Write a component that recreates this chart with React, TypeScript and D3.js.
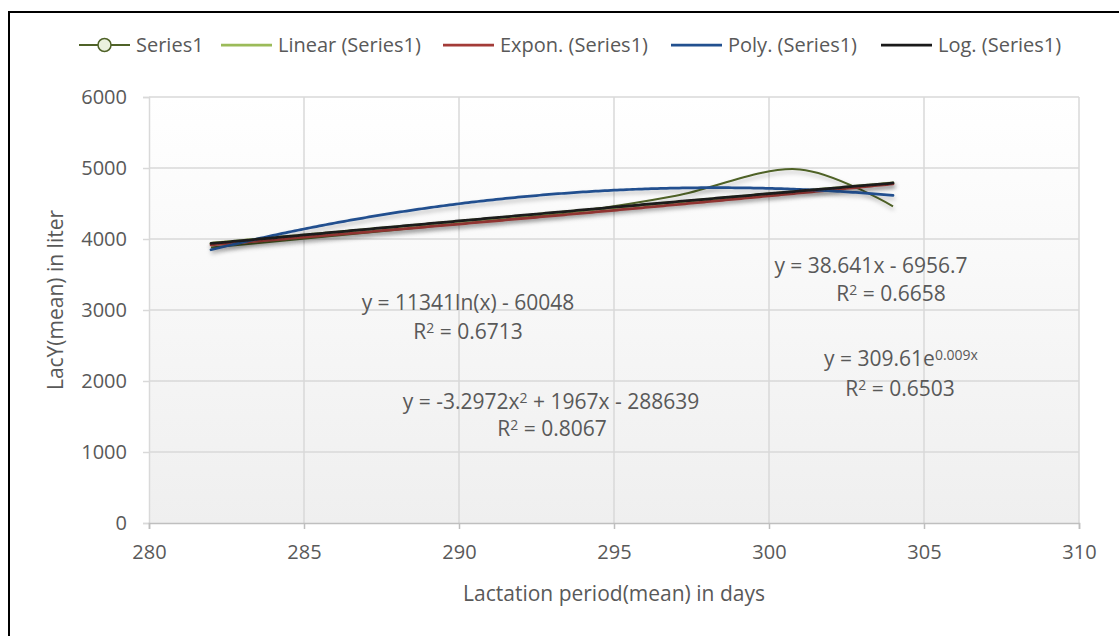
import React, { useEffect, useRef } from 'react';
import * as d3 from 'd3';

// Series1 (mean lactation period vs mean LacY)
const days = [282, 288, 294, 297, 301, 304];
const lacY = [3880, 4130, 4400, 4610, 4980, 4460];

// trendline coefficients as printed on the chart
const linearCoef = [38.641, -6956.7];
const exponCoef = [309.61, 0.009];
const polyCoef = [-3.2972, 1967, -288639];
const logCoef = [11341, -60048];

const xTicks = [280, 285, 290, 295, 300, 305, 310];
const yTicks = [0, 1000, 2000, 3000, 4000, 5000, 6000];

const legendNames = ['Series1', 'Linear (Series1)', 'Expon. (Series1)', 'Poly. (Series1)', 'Log. (Series1)'];

const FONT = "'Open Sans', 'Noto Sans', sans-serif";
const TXT = '#595959';

const App: React.FC = () => {
  const svgRef = useRef<SVGSVGElement | null>(null);

  useEffect(() => {
    const svg = d3.select(svgRef.current);
    svg.selectAll('*').remove();
    const width = 1119;
    const height = 636;
    const margin = { top: 97, right: 40, bottom: 113, left: 149 };

    const x = d3.scaleLinear().domain([280, 310]).range([margin.left, width - margin.right]);
    const y = d3.scaleLinear().domain([0, 6000]).range([height - margin.bottom, margin.top]);

    const defs = svg.append('defs');
    const grad = defs.append('linearGradient').attr('id', 'bg').attr('x1', 0).attr('y1', 0).attr('x2', 0).attr('y2', 1);
    grad.append('stop').attr('offset', '0%').attr('stop-color', '#ffffff');
    grad.append('stop').attr('offset', '100%').attr('stop-color', '#efefef');
    const f = defs.append('filter').attr('id', 'shadow').attr('x', '-10%').attr('y', '-50%').attr('width', '120%').attr('height', '200%');
    f.append('feDropShadow').attr('dx', 1).attr('dy', 3).attr('stdDeviation', 2).attr('flood-color', '#000').attr('flood-opacity', 0.25);

    // chart border
    svg.append('rect').attr('x', 9).attr('y', 12).attr('width', 1130).attr('height', 640)
      .attr('fill', '#fff').attr('stroke', '#000').attr('stroke-width', 2);

    svg.append('rect')
      .attr('x', x(280)).attr('y', y(6000))
      .attr('width', x(310) - x(280)).attr('height', y(0) - y(6000))
      .attr('fill', 'url(#bg)');

    // gridlines
    svg.append('g').selectAll('line').data(yTicks.slice(1)).enter().append('line')
      .attr('x1', x(280)).attr('x2', x(310)).attr('y1', d => y(d)).attr('y2', d => y(d))
      .attr('stroke', '#d9d9d9').attr('stroke-width', 1.5);
    svg.append('g').selectAll('line').data(xTicks.slice(1)).enter().append('line')
      .attr('y1', y(0)).attr('y2', y(6000)).attr('x1', d => x(d)).attr('x2', d => x(d))
      .attr('stroke', '#d9d9d9').attr('stroke-width', 1.5);

    const yAxis = svg.append('g').attr('transform', `translate(${x(280)},0)`)
      .call(d3.axisLeft(y).tickValues(yTicks).tickSize(6).tickPadding(16).tickFormat(d3.format('d')) as any);
    const xAxis = svg.append('g').attr('transform', `translate(0,${y(0)})`)
      .call(d3.axisBottom(x).tickValues(xTicks).tickSize(6).tickPadding(16).tickFormat(d3.format('d')) as any);
    [yAxis, xAxis].forEach(a => {
      a.select('.domain').attr('stroke', '#bfbfbf').attr('stroke-width', 1.5);
      a.selectAll('.tick line').attr('stroke', '#bfbfbf').attr('stroke-width', 1.5);
      a.selectAll('.tick text').attr('fill', TXT).attr('font-family', FONT).attr('font-size', 20);
    });
    yAxis.select('.domain').attr('stroke', '#d9d9d9');
    yAxis.selectAll('.tick line').attr('stroke', '#d9d9d9');

    svg.append('text').attr('x', (x(280) + x(310)) / 2).attr('y', 601)
      .attr('text-anchor', 'middle').attr('fill', TXT).attr('font-family', FONT).attr('font-size', 21)
      .text('Lactation period(mean) in days');
    svg.append('text').attr('transform', `translate(63,${(y(0) + y(6000)) / 2 - 10}) rotate(-90)`)
      .attr('text-anchor', 'middle').attr('fill', TXT).attr('font-family', FONT).attr('font-size', 21)
      .text('LacY(mean) in liter');

    // trendlines sampled over the data range
    const [x0, x1] = d3.extent(days) as [number, number];
    const xs = d3.range(x0, x1 + 0.001, 0.1);
    const trend = (fn: (v: number) => number) => xs.map(v => [v, fn(v)] as [number, number]);
    const lineGen = d3.line<[number, number]>().x(d => x(d[0])).y(d => y(d[1]));

    const trends: { pts: [number, number][]; color: string }[] = [
      { pts: trend(v => linearCoef[0] * v + linearCoef[1]), color: '#9bbb59' },
      { pts: trend(v => exponCoef[0] * Math.exp(exponCoef[1] * v)), color: '#a33b38' },
      { pts: trend(v => polyCoef[0] * v * v + polyCoef[1] * v + polyCoef[2]), color: '#22508f' },
      { pts: trend(v => logCoef[0] * Math.log(v) + logCoef[1]), color: '#1a1a1a' },
    ];

    const seriesPts = days.map((d, i) => [d, lacY[i]] as [number, number]);
    svg.append('path').datum(seriesPts)
      .attr('d', d3.line<[number, number]>().x(d => x(d[0])).y(d => y(d[1])).curve(d3.curveCatmullRom.alpha(0.5)))
      .attr('fill', 'none').attr('stroke', '#4f6228').attr('stroke-width', 2).attr('filter', 'url(#shadow)');

    trends.forEach(t => {
      svg.append('path').datum(t.pts).attr('d', lineGen)
        .attr('fill', 'none').attr('stroke', t.color).attr('stroke-width', 2.75)
        .attr('stroke-linecap', 'round').attr('filter', 'url(#shadow)');
    });

    // equation labels
    const eq = svg.append('g').attr('fill', TXT).attr('font-family', FONT).attr('font-size', 21).attr('text-anchor', 'middle');
    const label = (cx: number, cy: number, parts: [string, boolean][]) => {
      const t = eq.append('text').attr('x', cx).attr('y', cy);
      parts.forEach(([s, sup]) => {
        const ts = t.append('tspan').text(s);
        if (sup) ts.attr('font-size', 14).attr('baseline-shift', '40%');
      });
    };
    label(871, 273, [[`y = ${linearCoef[0]}x - ${Math.abs(linearCoef[1])}`, false]]);
    label(891, 301, [['R', false], ['2', true], [' = 0.6658', false]]);
    label(468, 310, [[`y = ${logCoef[0]}ln(x) - ${Math.abs(logCoef[1])}`, false]]);
    label(468, 339, [['R', false], ['2', true], [' = 0.6713', false]]);
    label(551, 409, [[`y = ${polyCoef[0]}x`, false], ['2', true], [` + ${polyCoef[1]}x - ${Math.abs(polyCoef[2])}`, false]]);
    label(552, 436, [['R', false], ['2', true], [' = 0.8067', false]]);
    label(901, 366, [[`y = ${exponCoef[0]}e`, false], [`${exponCoef[1]}x`, true]]);
    label(900, 396, [['R', false], ['2', true], [' = 0.6503', false]]);

    // legend
    const legendX = [79, 221, 443, 671, 881];
    const legendColors = ['#4f6228', '#9bbb59', '#a33b38', '#22508f', '#1a1a1a'];
    const lg = svg.append('g');
    legendNames.forEach((n, i) => {
      const g = lg.append('g').attr('transform', `translate(${legendX[i]},45)`);
      g.append('line').attr('x1', 0).attr('x2', 51).attr('y1', 0).attr('y2', 0)
        .attr('stroke', legendColors[i]).attr('stroke-width', i === 0 ? 2 : 2.75);
      if (i === 0) {
        g.append('circle').attr('cx', 25.5).attr('cy', 0).attr('r', 6.5)
          .attr('fill', '#ebf1de').attr('stroke', '#4f6228').attr('stroke-width', 1.5);
      }
      g.append('text').attr('x', 57).attr('y', 7).attr('fill', TXT)
        .attr('font-family', FONT).attr('font-size', 20).text(n);
    });
  }, []);

  return (
    <div style={{ position: 'absolute', left: 0, top: 0 }}>
      <svg ref={svgRef} width={1119} height={636} style={{ display: 'block' }}></svg>
    </div>
  );
};

export default App;
